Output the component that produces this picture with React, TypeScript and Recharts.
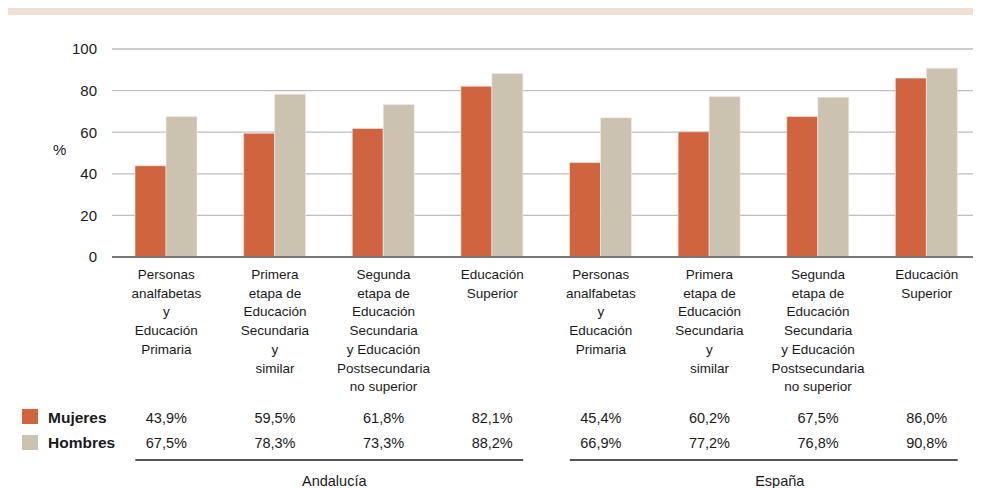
import { BarChart, Bar, XAxis, YAxis, CartesianGrid } from 'recharts';

const categories = [
  'Personas\nanalfabetas\ny\nEducación\nPrimaria',
  'Primera\netapa de\nEducación\nSecundaria\ny\nsimilar',
  'Segunda\netapa de\nEducación\nSecundaria\ny Educación\nPostsecundaria\nno superior',
  'Educación\nSuperior',
  'Personas\nanalfabetas\ny\nEducación\nPrimaria',
  'Primera\netapa de\nEducación\nSecundaria\ny\nsimilar',
  'Segunda\netapa de\nEducación\nSecundaria\ny Educación\nPostsecundaria\nno superior',
  'Educación\nSuperior',
];
const regions = ['Andalucía', 'España'];
const mujeres = [43.9, 59.5, 61.8, 82.1, 45.4, 60.2, 67.5, 86.0];
const hombres = [67.5, 78.3, 73.3, 88.2, 66.9, 77.2, 76.8, 90.8];
const yTicks = [0, 20, 40, 60, 80, 100];

// the chart sits inside the body's 8px margin, so it fills 973x480
const W = 973;
const H = 480;
const PLOT_LEFT = 104;
const BAND = (W - PLOT_LEFT) / categories.length;
const BAR = 31;
const FONT = '"Liberation Sans", Arial, sans-serif';
const C_MUJ = '#D0643F';
const C_HOM = '#CCC2B0';
const TEXT = '#1a1a1a';

const data = categories.map((c, i) => ({
  key: `c${i}`,
  label: c,
  mujeres: mujeres[i],
  hombres: hombres[i],
}));

const fmt = (v: number) => v.toFixed(1).replace('.', ',') + '%';

function CatTick(props: any) {
  const { x, payload } = props;
  const i = payload?.index ?? props.index ?? 0;
  const lines = categories[i].split('\n');
  const perRegion = categories.length / regions.length;
  const isFirst = i % perRegion === 0;
  const r = Math.floor(i / perRegion);
  const spanL = x - BAR;
  const spanR = x + (perRegion - 1) * BAND + BAR;
  return (
    <g fontFamily={FONT}>
      {lines.map((l, k) => (
        <text key={k} x={x} y={271 + k * 18.7} textAnchor="middle" fontSize={13.5} fill={TEXT}>
          {l}
        </text>
      ))}
      <text x={x} y={415} textAnchor="middle" fontSize={14.5} fill={TEXT}>{fmt(mujeres[i])}</text>
      <text x={x} y={440} textAnchor="middle" fontSize={14.5} fill={TEXT}>{fmt(hombres[i])}</text>
      {isFirst && (
        <g>
          <line x1={spanL} x2={spanR} y1={452} y2={452} stroke="#555" strokeWidth={2} />
          <text x={(spanL + spanR) / 2 + (r === 0 ? 5 : 16)} y={478} textAnchor="middle" fontSize={14.5} fill={TEXT}>
            {regions[r]}
          </text>
        </g>
      )}
      {i === 0 && (
        <g>
          <rect x={14} y={401} width={16} height={15} fill={C_MUJ} />
          <rect x={14} y={427} width={16} height={15} fill={C_HOM} />
          <text x={40} y={415} fontSize={15.5} fontWeight="bold" fill={TEXT}>Mujeres</text>
          <text x={40} y={440} fontSize={15.5} fontWeight="bold" fill={TEXT}>Hombres</text>
        </g>
      )}
    </g>
  );
}

export default function App() {
  return (
    <div style={{ position: 'relative', width: W, height: H, background: '#fff' }}>
      <div style={{ position: 'absolute', left: 0, top: 0, width: W, height: 7, background: '#EFE0D3' }} />
      <BarChart
        width={W}
        height={H}
        data={data}
        margin={{ top: 41, right: 0, bottom: 11, left: 44 }}
        barSize={BAR}
        barGap={0}
      >
        <CartesianGrid vertical={false} stroke="#bdbdbd" strokeWidth={1.3} />
        <XAxis
          dataKey="key"
          height={220}
          axisLine={{ stroke: '#777', strokeWidth: 2 }}
          tickLine={false}
          interval={0}
          tick={<CatTick />}
        />
        <YAxis
          width={60}
          domain={[0, 100]}
          ticks={yTicks}
          axisLine={false}
          tickLine={false}
          tickSize={8}
          tickMargin={7}
          tick={{ fontSize: 15, fill: TEXT, fontFamily: FONT }}
          label={{ value: '%', position: 'insideLeft', dx: -4, dy: -3, fontSize: 15, fill: TEXT, fontFamily: FONT }}
        />
        <Bar dataKey="mujeres" fill={C_MUJ} stroke="#f6ece4" strokeWidth={0.6} isAnimationActive={false} />
        <Bar dataKey="hombres" fill={C_HOM} stroke="#f6ece4" strokeWidth={0.6} isAnimationActive={false} />
      </BarChart>
    </div>
  );
}
